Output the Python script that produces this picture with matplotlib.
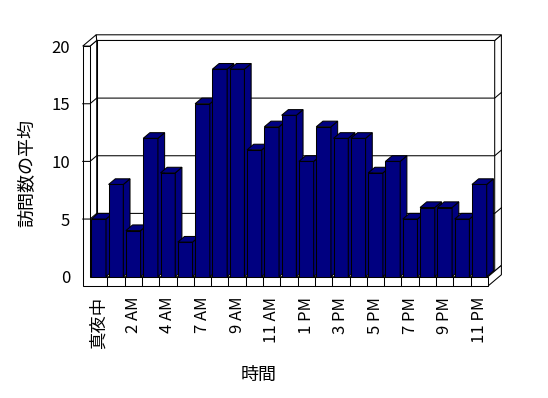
import matplotlib
matplotlib.use("Agg")
import matplotlib.pyplot as plt
from matplotlib.patches import Polygon

plt.rcParams['font.family'] = ['Noto Sans CJK JP', 'DejaVu Sans']

# average visits per hour (hour 5 AM has no data in the source chart)
hours = ['真夜中', '1 AM', '2 AM', '3 AM', '4 AM', '6 AM', '7 AM', '8 AM',
         '9 AM', '10 AM', '11 AM', '正午', '1 PM', '2 PM', '3 PM', '4 PM',
         '5 PM', '6 PM', '7 PM', '8 PM', '9 PM', '10 PM', '11 PM']
visits = [5, 8, 4, 12, 9, 3, 15, 18, 18, 11, 13, 14, 10, 13, 12, 12,
          9, 10, 5, 6, 6, 5, 8]
y_ticks = [0, 5, 10, 15, 20]

navy = '#000080'
lw = 0.75
# depth offset of the fake 3d view, in data units
ddx, ddy = 0.387, 0.49
wall = 0.42      # left wall thickness (category units)
floor = 0.81     # floor thickness (value units)

fig = plt.figure(figsize=(5.48, 3.98), dpi=100)
ax = fig.add_axes([90 / 548, 121.3 / 398, 398 / 548, 230.6 / 398])
n = len(visits)
x0, x1 = -0.5, n - 0.5
ymax = y_ticks[-1]
ax.set_xlim(x0, x1)
ax.set_ylim(0, ymax)
for s in ax.spines.values():
    s.set_visible(False)


def poly(pts, z=1, fc='white'):
    ax.add_patch(Polygon(pts, closed=True, fc=fc, ec='black', lw=lw,
                         zorder=z, clip_on=False))


xl = x0 - wall
# back wall (front face, right face, top face)
poly([(x0 + ddx, ddy), (x1 + ddx, ddy), (x1 + ddx, ymax + ddy), (x0 + ddx, ymax + ddy)])
poly([(x1 + ddx, ddy), (x1 + 2 * ddx, 2 * ddy), (x1 + 2 * ddx, ymax + 2 * ddy), (x1 + ddx, ymax + ddy)])
poly([(x0 + ddx, ymax + ddy), (x1 + ddx, ymax + ddy), (x1 + 2 * ddx, ymax + 2 * ddy),
      (xl + 2 * ddx, ymax + 2 * ddy)])
# left wall (inner face, top, front)
poly([(x0, 0), (x0 + ddx, ddy), (x0 + ddx, ymax + ddy), (x0, ymax)])
poly([(xl, ymax), (x0, ymax), (x0 + ddx, ymax + ddy), (xl + 2 * ddx, ymax + 2 * ddy)])
# floor (top, right face) and the L-shaped front face
poly([(x0, 0), (x1, 0), (x1 + ddx, ddy), (x0 + ddx, ddy)])
poly([(x1, -floor), (x1 + 2 * ddx, -floor + 2 * ddy), (x1 + 2 * ddx, 2 * ddy), (x1, 0)])
poly([(xl, -floor), (x1, -floor), (x1, 0), (x0, 0), (x0, ymax), (xl, ymax)])

# gridlines across walls
for v in y_ticks[1:-1]:
    ax.plot([xl, x0, x0 + ddx, x1 + ddx, x1 + 2 * ddx],
            [v, v, v + ddy, v + ddy, v + 2 * ddy],
            color='black', lw=lw, zorder=1.5, clip_on=False)
# category dividers on the floor front
for k in range(1, n):
    ax.plot([k - 0.5, k - 0.5], [-floor, 0], color='black', lw=lw,
            zorder=1.5, clip_on=False)

# bars: front faces from ax.bar, side and top faces from the same values
w = 0.85
bars = ax.bar(range(n), visits, width=w, color=navy, edgecolor='black', lw=lw)
for i, (b, v) in enumerate(zip(bars, visits)):
    z = 3 + i * 0.01
    b.set_zorder(z)
    l, r = i - w / 2, i + w / 2
    poly([(r, 0), (r + ddx, ddy), (r + ddx, v + ddy), (r, v)], z, navy)
    poly([(l, v), (r, v), (r + ddx, v + ddy), (l + ddx, v + ddy)], z, navy)

ax.set_xticks(range(0, n, 2), hours[::2], rotation=90)
ax.set_yticks(y_ticks)
ax.tick_params(axis='x', length=0, pad=14.6, labelsize=12)
ax.tick_params(axis='y', length=0, pad=14.4, labelsize=12)
ax.get_xticklabels()[0].set_fontsize(12.5)

fig.text(259 / 548, 23 / 398, '時間', fontsize=13, ha='center', va='center')
fig.text(27 / 548, 225 / 398, '訪問数の平均', fontsize=13, rotation=90,
         ha='center', va='center')

fig.savefig('out.png', dpi=100)
plt.close(fig)
